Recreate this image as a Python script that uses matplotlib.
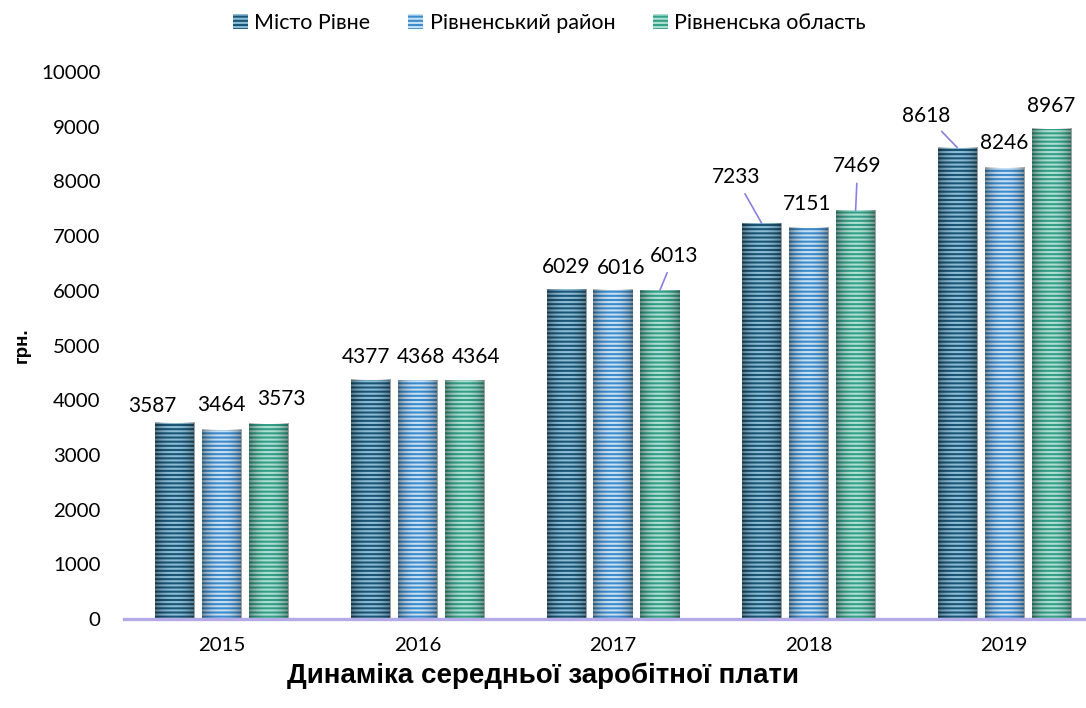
"""Average wage dynamics, Rivne – grouped striped bar chart."""
import matplotlib
matplotlib.use("Agg")
import matplotlib.pyplot as plt
import numpy as np
from matplotlib.patches import Patch

# ── Data ──────────────────────────────────────────────────────────────────────
YEARS = ["2015", "2016", "2017", "2018", "2019"]
SERIES = ["Місто Рівне", "Рівненський район", "Рівненська область"]
CITY = [3587, 4377, 6029, 7233, 8618]
DISTRICT = [3464, 4368, 6016, 7151, 8246]
REGION = [3573, 4364, 6013, 7469, 8967]

# ── Style ─────────────────────────────────────────────────────────────────────
FONT = "Lato"
FACE = ["#1b5676", "#3d8ccd", "#34a088"]
STRIPE = ["#8cbdd6", "#c6e0f4", "#addfd2"]
AXIS_C = "#b3aae6"
LEADER_C = "#8a80e0"

# label offsets in pixels (dx, dy) from the bar top, and leader-line flags
OFFSETS = [
    [(-23, 17), (0, 25), (13, 25)],
    [(-4, 23), (4, 23), (12, 23)],
    [(0, 22), (8, 22), (14, 34)],
    [(-26, 46), (-2, 24), (2, 44)],
    [(-31, 32), (0, 25), (0, 23)],
]
LEADERS = [
    [False, False, False],
    [False, False, False],
    [False, False, True],
    [True, False, True],
    [True, False, False],
]

plt.rcParams["hatch.linewidth"] = 1.5

# horizontal shading that darkens the bar edges (cylinder look)
_t = np.linspace(-1, 1, 64)
SHADE = np.zeros((1, 64, 4))
SHADE[..., 3] = 0.38 * np.abs(_t) ** 2.2


def main() -> None:
    fig = plt.figure(figsize=(10.86, 7.08), dpi=100)
    ax = fig.add_axes([0.1142, 0.1257, 0.9006, 0.7726])

    x = np.arange(len(YEARS))
    width = 0.2
    step = 0.24
    values = [CITY, DISTRICT, REGION]

    for i, vals in enumerate(values):
        xs = x + (i - 1) * step
        bars = ax.bar(xs, vals, width, facecolor=FACE[i], edgecolor=STRIPE[i],
                      linewidth=0, hatch="----", zorder=2)
        for b in bars:
            x0 = b.get_x()
            ax.imshow(SHADE, extent=(x0, x0 + b.get_width(), 0, b.get_height()),
                      aspect="auto", interpolation="bilinear", zorder=2.5)
        for j, v in enumerate(vals):
            dx, dy = OFFSETS[j][i]
            arrow = None
            if LEADERS[j][i]:
                arrow = dict(arrowstyle="-", color=LEADER_C, lw=1.2,
                             shrinkA=3, shrinkB=0)
            ax.annotate(str(v), xy=(xs[j], v),
                        xytext=(dx * 0.72, dy * 0.72),
                        textcoords="offset points",
                        ha="center", va="center", fontsize=15,
                        fontfamily=FONT, color="#000000",
                        arrowprops=arrow, zorder=4)

    ax.set_xlim(-0.5, len(YEARS) - 0.5)
    ax.set_ylim(0, 10000)
    ax.set_yticks(np.arange(0, 10001, 1000))
    ax.set_xticks(x)
    ax.set_xticklabels(YEARS)
    ax.tick_params(length=0, labelsize=14.7)
    ax.tick_params(axis="x", pad=13)
    ax.tick_params(axis="y", pad=17)
    for lab in ax.get_xticklabels() + ax.get_yticklabels():
        lab.set_fontfamily(FONT)

    for s in ("top", "right", "left"):
        ax.spines[s].set_visible(False)
    ax.spines["bottom"].set_color(AXIS_C)
    ax.spines["bottom"].set_linewidth(2.4)
    ax.spines["bottom"].set_zorder(3)

    ax.set_ylabel("грн.", fontsize=13.5, fontweight="bold",
                  fontfamily="Liberation Sans")
    ax.yaxis.set_label_coords(-0.095, 0.5)
    ax.set_xlabel("Динаміка середньої заробітної плати", fontsize=20,
                  fontweight="bold", fontfamily="Liberation Sans")
    ax.xaxis.set_label_coords(0.428, -0.079)

    handles = [Patch(facecolor=FACE[i], edgecolor=STRIPE[i], linewidth=0,
                     hatch="----") for i in range(3)]
    fig.legend(handles, SERIES, loc="center", bbox_to_anchor=(0.506, 0.968),
               ncol=3, frameon=False, handlelength=0.7, handleheight=0.7,
               columnspacing=1.76, handletextpad=0.28,
               prop={"family": FONT, "size": 15.5})

    fig.savefig("out.png", dpi=100)


if __name__ == "__main__":
    main()
